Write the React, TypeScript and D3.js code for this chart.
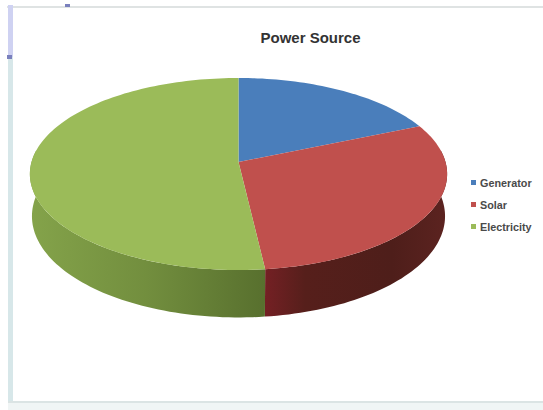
import React from "react";
import * as d3 from "d3";

const categories = ["Generator", "Solar", "Electricity"];
const shares = [18.5, 29.7, 51.8];
const topColors = ["#4a7ebb", "#c0504d", "#9bbb59"];
const title = "Power Source";

const WIDTH = 543;
const HEIGHT = 410;

// Perspective tilt of the pie disc
const centerX = 238.5;
const centerY = 162;
const radiusX = 207;
const radiusY = 94.5;
const tilt = 0.125;
const depth = 41.5;
const bottomShrink = 0.99;

type Pt = [number, number];

// Projects an angle (clockwise from twelve o'clock) on to the top face
function topPoint(angle: number): Pt {
  const X = Math.sin(angle);
  const Y = -Math.cos(angle);
  const w = 1 - tilt * Y;
  return [centerX + (radiusX * X) / w, centerY + (radiusY * Y) / w];
}

// The matching point on the rim of the lower face
function bottomPoint(angle: number): Pt {
  const X = Math.sin(angle);
  const Y = -Math.cos(angle);
  const w = 1 - tilt * Y;
  return [
    centerX + (bottomShrink * radiusX * X) / w,
    centerY + (radiusY * Y) / w + depth / w,
  ];
}

const arcAngles = (a0: number, a1: number) => {
  const n = Math.max(2, Math.ceil(((a1 - a0) / Math.PI) * 120));
  return d3.range(n + 1).map((i) => a0 + ((a1 - a0) * i) / n);
};

const line = d3.line<Pt>();

const pieLayout = d3
  .pie<number>()
  .sort(null)
  .value((d) => d);

export default function App() {
  const slices = pieLayout(shares);

  const faces = slices.map((s) => {
    const rim = arcAngles(s.startAngle, s.endAngle).map(topPoint);
    return line([[centerX, centerY], ...rim])! + "Z";
  });

  // Only the part of the rim facing the viewer is visible: from the widest
  // point on the right round to the widest point on the left.
  const sideStart = Math.PI / 2 - Math.asin(tilt);
  const sideEnd = (3 * Math.PI) / 2 + Math.asin(tilt);
  const sides = slices.map((s) => {
    const a0 = Math.max(s.startAngle, sideStart);
    const a1 = Math.min(s.endAngle, sideEnd);
    if (a1 <= a0) return null;
    const angles = arcAngles(a0, a1);
    const upper = angles.map(topPoint);
    const lower = angles.map(bottomPoint).reverse();
    return line([...upper, ...lower])! + "Z";
  });

  const legendY = d3
    .scalePoint<string>()
    .domain(categories)
    .range([183, 227]);

  return (
    <svg
      width={WIDTH}
      height={HEIGHT}
      viewBox={`0 0 ${WIDTH} ${HEIGHT}`}
      style={{ position: "absolute", left: 0, top: 0, background: "#ffffff" }}
    >
      <defs>
        <linearGradient id="sideGreen" gradientUnits="userSpaceOnUse" x1="30" x2="265" y1="0" y2="0">
          <stop offset="0" stopColor="#84a34a" />
          <stop offset="0.5" stopColor="#728e3e" />
          <stop offset="1" stopColor="#58702e" />
        </linearGradient>
        <linearGradient id="sideRed" gradientUnits="userSpaceOnUse" x1="265" x2="447" y1="0" y2="0">
          <stop offset="0" stopColor="#742024" />
          <stop offset="0.22" stopColor="#561f1b" />
          <stop offset="0.7" stopColor="#4e1e1a" />
          <stop offset="1" stopColor="#5c2320" />
        </linearGradient>
      </defs>

      {/* Window chrome around the chart */}
      <rect x={0} y={0} width={WIDTH} height={HEIGHT} fill="#ffffff" />
      <rect x={7} y={6} width={536} height={2} fill="#dfe3e3" />
      <rect x={8} y={5} width={5} height={399} fill="#d7e7e9" />
      <rect x={8} y={5} width={5} height={52} fill="#cfd2f2" />
      <rect x={7} y={55} width={5} height={4} fill="#7a80bd" />
      <rect x={65} y={4} width={5} height={3} fill="#7a80bd" />
      <rect x={8} y={403} width={535} height={7} fill="#f0f5f5" />
      <rect x={8} y={401} width={535} height={2} fill="#dbe4e4" />

      {/* Extruded rim */}
      {sides.map((d, i) =>
        d ? (
          <path key={categories[i]} d={d} fill={i === 2 ? "url(#sideGreen)" : "url(#sideRed)"} />
        ) : null
      )}

      {/* Top face */}
      {faces.map((d, i) => (
        <path key={categories[i]} d={d} fill={topColors[i]} />
      ))}

      <text
        x={310.5}
        y={43}
        textAnchor="middle"
        fontFamily="'Liberation Sans', Arial, sans-serif"
        fontSize={15}
        fontWeight="bold"
        fill="#333333"
      >
        {title}
      </text>

      {categories.map((c, i) => (
        <g key={c}>
          <rect x={471} y={legendY(c)! - 3} width={5} height={5} fill={topColors[i]} />
          <text
            x={480}
            y={legendY(c)! + 3.5}
            fontFamily="'Liberation Sans', Arial, sans-serif"
            fontSize={10.8}
            fontWeight="bold"
            fill="#4a4a4a"
          >
            {c}
          </text>
        </g>
      ))}
    </svg>
  );
}
